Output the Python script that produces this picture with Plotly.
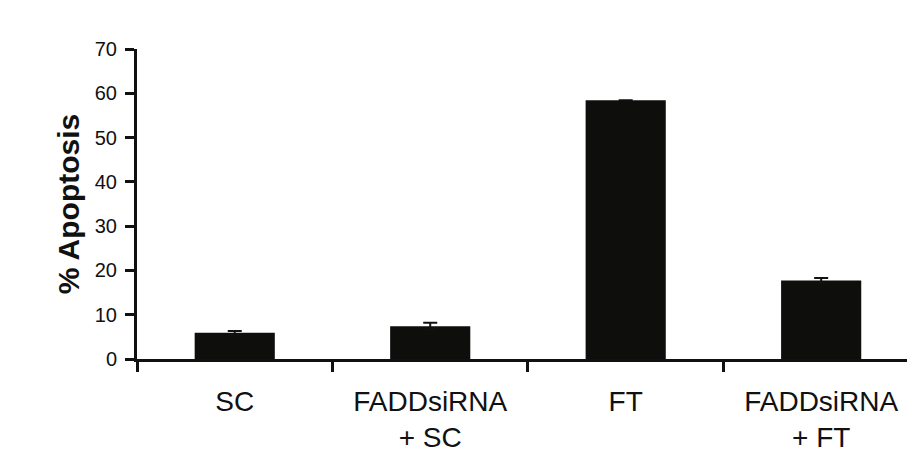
import plotly.graph_objects as go

categories = ["SC", "FADDsiRNA<br>+ SC", "FT", "FADDsiRNA<br>+ FT"]
apoptosis = [5.9, 7.4, 58.4, 17.7]
errors = [0.4, 0.8, None, 0.6]
y_ticks = [0, 10, 20, 30, 40, 50, 60, 70]

FONT = "Liberation Sans, Arial, Helvetica, sans-serif"
INK = "#111111"

fig = go.Figure()
fig.add_trace(go.Bar(
    x=categories,
    y=apoptosis,
    width=0.41,
    marker=dict(color="#0e0e0c", line=dict(width=0)),
    error_y=dict(type="data", array=errors, visible=True,
                 color=INK, thickness=2, width=7),
))

# page body has an 8px margin: the figure is sized to fill the rest of the window
fig.update_layout(
    width=907, height=460,
    margin=dict(l=129, r=0, t=41, b=109),
    paper_bgcolor="white", plot_bgcolor="white",
    showlegend=False,
    font=dict(family=FONT, color=INK),
)
fig.update_xaxes(
    type="category",
    range=[-0.5, 3.48],
    showline=True, linewidth=3, linecolor=INK,
    ticks="outside", ticklen=10, tickwidth=3, tickcolor=INK,
    tickson="boundaries",
    ticklabelstandoff=15,
    tickfont=dict(size=28, family=FONT, color=INK),
    showgrid=False, zeroline=False,
)
fig.update_yaxes(
    range=[0, 70],
    tickvals=y_ticks,
    showline=True, linewidth=3, linecolor=INK,
    ticks="outside", ticklen=9, tickwidth=3, tickcolor=INK,
    ticklabelstandoff=4,
    tickfont=dict(size=20, family=FONT, color=INK),
    title=dict(text="<b>% Apoptosis</b>", font=dict(size=30, family=FONT, color=INK), standoff=7),
    showgrid=False, zeroline=False,
)

fig.write_html("out.html")
